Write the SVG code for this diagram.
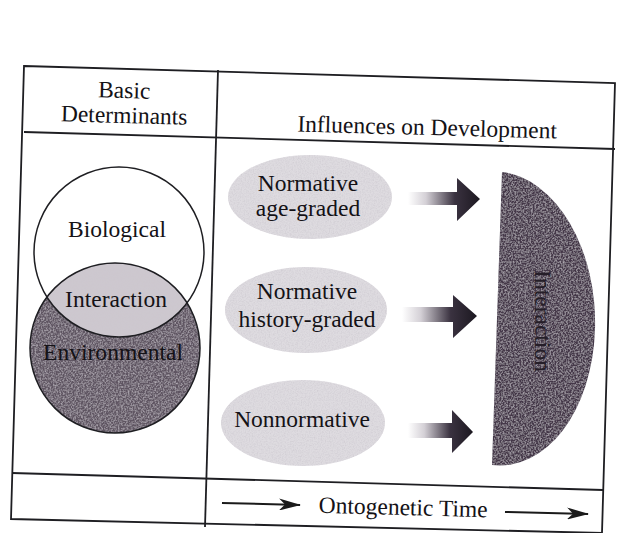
<svg xmlns="http://www.w3.org/2000/svg" width="634" height="533" viewBox="0 0 634 533">
<defs>
<style>
.t{font-family:"Liberation Serif","Times New Roman",serif;font-size:23.5px;fill:#141216;text-anchor:middle}
.frame{fill:none;stroke:#1e1e22;stroke-width:1.8}
.outline{fill:none;stroke:#1e1e22;stroke-width:1.5}
</style>
<filter id="grainL" x="0" y="0" width="1" height="1">
<feTurbulence type="fractalNoise" baseFrequency="0.75" numOctaves="2" seed="4" result="n"/>
<feColorMatrix in="n" type="matrix" values="0 0 0 0 0.6  0 0 0 0 0.57  0 0 0 0 0.62  1.4 0 0 0 -0.55" result="a"/>
<feComposite in="a" in2="SourceGraphic" operator="in" result="s"/>
<feMerge><feMergeNode in="SourceGraphic"/><feMergeNode in="s"/></feMerge>
</filter>
<filter id="grainD" x="0" y="0" width="1" height="1">
<feTurbulence type="fractalNoise" baseFrequency="0.6" numOctaves="2" seed="9" result="n"/>
<feColorMatrix in="n" type="matrix" values="0 0 0 0 0.62  0 0 0 0 0.58  0 0 0 0 0.64  1.3 0 0 0 -0.5" result="a"/>
<feComposite in="a" in2="SourceGraphic" operator="in" result="s"/>
<feMerge><feMergeNode in="SourceGraphic"/><feMergeNode in="s"/></feMerge>
</filter>
<linearGradient id="ag" x1="0" y1="0" x2="1" y2="0">
<stop offset="0" stop-color="#ffffff"/>
<stop offset="0.25" stop-color="#d4d0d6"/>
<stop offset="0.65" stop-color="#3a3240"/>
<stop offset="1" stop-color="#1c1820"/>
</linearGradient>
<clipPath id="topc"><circle cx="119" cy="252" r="85"/></clipPath>
<marker id="ah" viewBox="0 0 22 12" refX="21" refY="6" markerWidth="22" markerHeight="12" markerUnits="userSpaceOnUse" orient="auto">
<path d="M0,0 L22,6 L0,12 L6,6 Z" fill="#1a1a1a"/>
</marker>
</defs>

<g id="frame">
<path class="frame" d="M24,66 L615,83 L602,533 L11,519 Z"/>
<path class="frame" d="M24,132 L615,149"/>
<path class="frame" d="M12,473 L603,490"/>
<path class="frame" d="M218,70 L205,527"/>
</g>

<g id="headers">
<text class="t" x="124" y="98" transform="rotate(1.5 124 98)">Basic</text>
<text class="t" x="124" y="123" transform="rotate(1.5 124 123)">Determinants</text>
<text class="t" x="427" y="135" transform="rotate(1.5 427 135)">Influences on Development</text>
</g>

<g id="environmental">
<circle cx="115" cy="348" r="85" fill="#5e5462" filter="url(#grainD)"/>
</g>
<g id="interaction-region">
<circle cx="115" cy="348" r="85" fill="#cdc8cf" clip-path="url(#topc)" filter="url(#grainL)"/>
</g>
<g id="biological">
<circle class="outline" cx="119" cy="252" r="85"/>
<circle class="outline" cx="115" cy="348" r="85"/>
<text class="t" x="117" y="237">Biological</text>
<text class="t" x="116" y="307">Interaction</text>
<text class="t" x="113" y="360" textLength="140">Environmental</text>
</g>

<g id="age-graded">
<ellipse cx="310" cy="197" rx="82" ry="42" fill="#dedbe0" filter="url(#grainL)"/>
<text class="t" x="308" y="191">Normative</text>
<text class="t" x="308" y="216">age-graded</text>
</g>
<g id="history-graded">
<ellipse cx="306" cy="310" rx="81" ry="43" fill="#dedbe0" filter="url(#grainL)"/>
<text class="t" x="307" y="299">Normative</text>
<text class="t" x="307" y="327">history-graded</text>
</g>
<g id="nonnormative">
<ellipse cx="303" cy="423" rx="82" ry="43" fill="#dedbe0" filter="url(#grainL)"/>
<text class="t" x="302" y="427">Nonnormative</text>
</g>

<g id="interaction-outcome">
<path d="M502,172 A98 147 -2 0 1 492,465 Z" fill="#44394a" filter="url(#grainD)"/>
<text class="t" x="542" y="321" style="fill:#251e28" transform="rotate(90 542 321)" dy="7">Interaction</text>
</g>

<g id="connectors">
<path d="M408,192 L457,192 L457,178 L480,199 L457,221 L457,205 L408,205 Z" fill="url(#ag)"/>
<path d="M402,307 L453,307 L453,295 L477,316 L453,338 L453,322 L402,322 Z" fill="url(#ag)"/>
<path d="M408,423 L452,423 L452,410 L473,432 L452,453 L452,438 L408,438 Z" fill="url(#ag)"/>
<path d="M222,503 L300,505" stroke="#1a1a1a" stroke-width="2" fill="none" marker-end="url(#ah)"/>
<path d="M505,512 L588,514" stroke="#1a1a1a" stroke-width="2" fill="none" marker-end="url(#ah)"/>
</g>

<g id="time-label">
<text class="t" x="403" y="515" transform="rotate(1.5 403 515)">Ontogenetic Time</text>
</g>
</svg>
